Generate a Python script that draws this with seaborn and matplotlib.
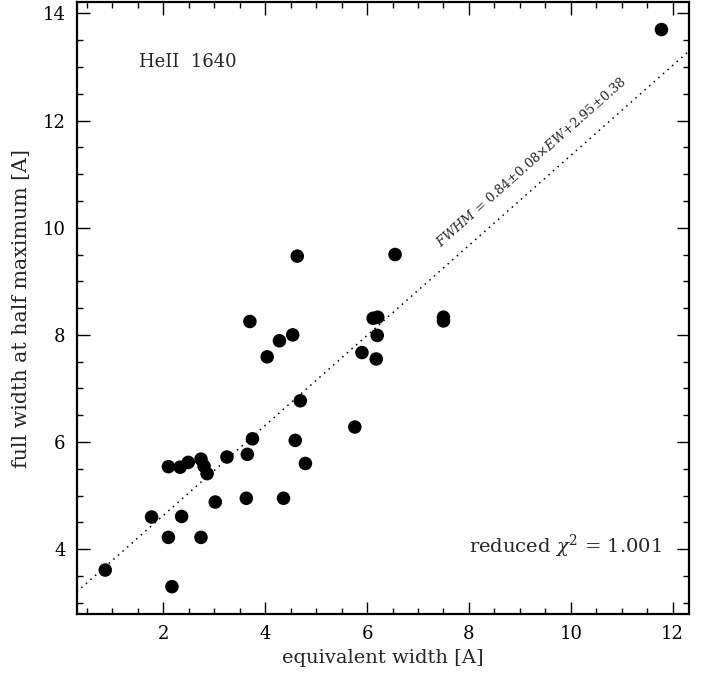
import numpy as np
import pandas as pd
import matplotlib
matplotlib.use("Agg")
import matplotlib.pyplot as plt
import seaborn as sns
from matplotlib.ticker import MultipleLocator

# equivalent width [A] and FWHM [A]
ew = [0.86, 2.17, 1.77, 2.10, 2.36, 2.74, 2.10, 2.33, 2.49, 2.74, 2.80, 2.86,
      3.02, 3.25, 3.63, 3.65, 3.75, 4.04, 4.28, 4.54, 4.36, 4.59, 4.69, 4.79,
      5.76, 3.70, 4.63, 11.78, 6.55, 6.12, 6.21, 6.20, 7.50, 7.50, 5.90, 6.18]
fwhm = [3.61, 3.30, 4.60, 4.22, 4.61, 4.22, 5.54, 5.53, 5.62, 5.68, 5.55, 5.41,
        4.88, 5.72, 4.95, 5.77, 6.06, 7.59, 7.89, 8.00, 4.95, 6.03, 6.77, 5.60,
        6.28, 8.25, 9.47, 13.70, 9.50, 8.31, 8.33, 7.99, 8.33, 8.26, 7.67, 7.55]

# fit: FWHM = slope * EW + intercept
slope = 0.84
intercept = 2.95

line_label = r"$\it{FWHM}$ = 0.84±0.08×$\it{EW}$+2.95±0.38"
chi_label = r"reduced $\chi^2$ = 1.001"
line_name = "HeII  1640"

xlim = (0.30, 12.32)
ylim = (2.79, 14.21)

sns.set_theme(style="ticks")
plt.rcParams['font.family'] = ['DejaVu Serif']
plt.rcParams['mathtext.fontset'] = 'dejavuserif'

df = pd.DataFrame({"ew": ew, "fwhm": fwhm})

fig = plt.figure(figsize=(7.07, 6.73), dpi=100)
ax = fig.add_axes([0.1085, 0.0877, 0.866, 0.909])

sns.scatterplot(data=df, x="ew", y="fwhm", ax=ax, color="black",
                s=95, edgecolor="none", legend=False)

xs = np.array(xlim)
ax.plot(xs, slope * xs + intercept, color="black", linestyle=(0, (1, 3)),
        linewidth=1.1)

ax.set_xlim(*xlim)
ax.set_ylim(*ylim)

ax.xaxis.set_major_locator(MultipleLocator(2))
ax.xaxis.set_minor_locator(MultipleLocator(0.5))
ax.yaxis.set_major_locator(MultipleLocator(2))
ax.yaxis.set_minor_locator(MultipleLocator(0.5))
ax.tick_params(which="both", direction="in", top=True, right=True,
               colors="black", labelsize=13, width=1.0)
ax.tick_params(which="major", length=9, pad=8)
ax.tick_params(which="minor", length=4.5)
for sp in ax.spines.values():
    sp.set_linewidth(1.6)
    sp.set_color("black")

ax.set_xlabel("equivalent width [A]", fontsize=14, labelpad=4)
ax.set_ylabel("full width at half maximum [A]", fontsize=14.8, labelpad=8)

ax.text(1.52, 13.09, line_name, fontsize=13, va="center", ha="left")
ax.text(11.79, 4.06, chi_label, fontsize=14, va="center", ha="right")

# rotate fit label along the line in screen space
fig.canvas.draw()
p1 = ax.transData.transform((2, slope * 2 + intercept))
p2 = ax.transData.transform((10, slope * 10 + intercept))
angle = np.degrees(np.arctan2(p2[1] - p1[1], p2[0] - p1[0]))
ax.text(7.45, 9.64, line_label, fontsize=9.4, rotation=angle,
        rotation_mode="anchor", ha="left", va="baseline")

fig.savefig("out.png", dpi=100)
